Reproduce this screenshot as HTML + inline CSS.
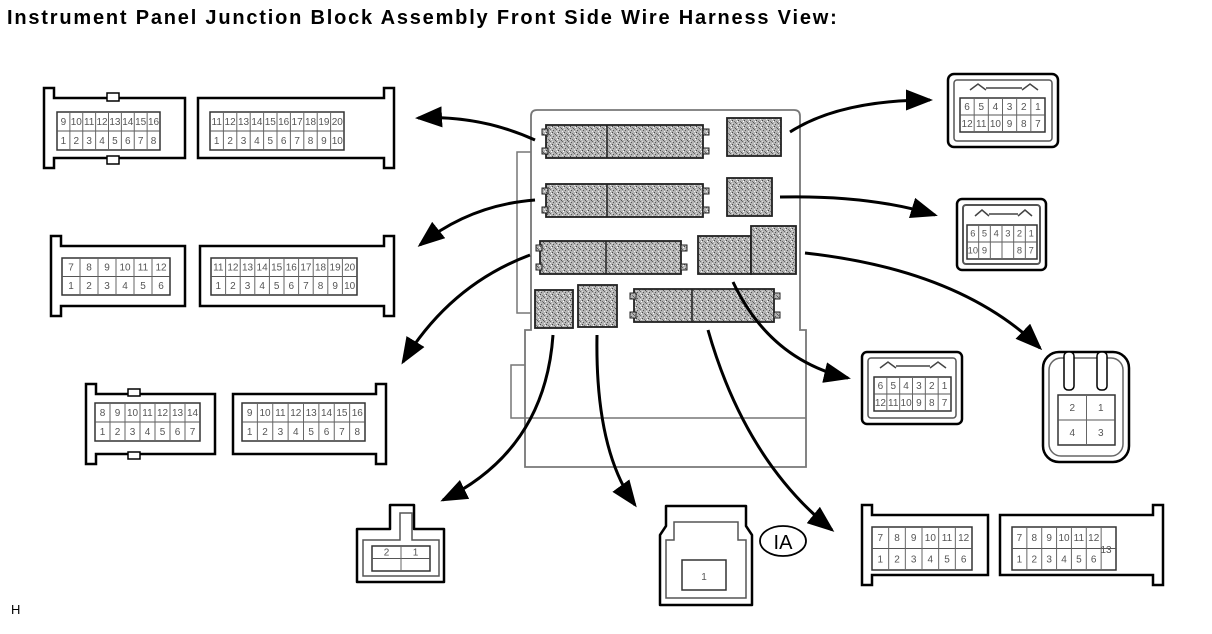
<!DOCTYPE html>
<html><head><meta charset="utf-8">
<style>
html,body{margin:0;padding:0;background:#fff;width:1212px;height:634px;overflow:hidden}
.t{position:absolute;left:7px;top:7px;font:bold 20px "Liberation Sans",sans-serif;letter-spacing:1.8px;color:#000;white-space:nowrap}
.h{position:absolute;left:11px;top:602px;font:13px "Liberation Sans",sans-serif}
svg{position:absolute;left:0;top:0}
</style></head><body>
<div class="t">Instrument Panel Junction Block Assembly Front Side Wire Harness View:</div>
<div class="h">H</div>
<svg id="s" width="1212" height="634" xmlns="http://www.w3.org/2000/svg">
<defs>
<pattern id="sp" width="6" height="6" patternUnits="userSpaceOnUse">
<rect width="6" height="6" fill="#b4b4b4"/>
<rect x="0" y="0" width="1" height="1" fill="#444"/><rect x="3" y="2" width="1" height="1" fill="#555"/>
<rect x="1" y="4" width="1" height="1" fill="#555"/><rect x="4" y="5" width="1" height="1" fill="#eee"/>
<rect x="5" y="1" width="1" height="1" fill="#fff"/><rect x="2" y="1" width="1" height="1" fill="#777"/>
<rect x="4" y="3" width="1" height="1" fill="#666"/><rect x="0" y="3" width="1" height="1" fill="#ddd"/>
</pattern>
<marker id="ah" markerWidth="9" markerHeight="7" refX="8" refY="3.5" orient="auto" markerUnits="strokeWidth">
<path d="M0,0 L9,3.5 L0,7 Z" fill="#000"/></marker>
</defs>
<g id="g"></g>
</svg>
<script>
var o='';
function R(x,y,w,h,a){o+='<rect x="'+x+'" y="'+y+'" width="'+w+'" height="'+h+'" '+(a||'fill="none" stroke="#000" stroke-width="2.5"')+'/>';}
function grid(x,y,w,h,top,bot){
 var n=top.length,cw=w/n;
 R(x,y,w,h,'fill="#fff" stroke="#333" stroke-width="1.5"');
 o+='<line x1="'+x+'" y1="'+(y+h/2)+'" x2="'+(x+w)+'" y2="'+(y+h/2)+'" stroke="#555" stroke-width="1"/>';
 for(var i=0;i<n;i++){
  if(i>0)o+='<line x1="'+(x+i*cw)+'" y1="'+y+'" x2="'+(x+i*cw)+'" y2="'+(y+h)+'" stroke="#666" stroke-width="1"/>';
  var fs=Math.min(10,cw*0.8);
  o+='<text x="'+(x+i*cw+cw/2)+'" y="'+(y+h/4+fs/3)+'" font-size="'+fs+'" text-anchor="middle" fill="#555" font-family="Liberation Sans">'+top[i]+'</text>';
  if(bot[i]!=='')o+='<text x="'+(x+i*cw+cw/2)+'" y="'+(y+3*h/4+fs/3)+'" font-size="'+fs+'" text-anchor="middle" fill="#555" font-family="Liberation Sans">'+bot[i]+'</text>';
 }
}
function shellL(x,y,w,h){
 o+='<path d="M'+(x+14)+','+y+' h'+(w-14)+' v'+h+' h-'+(w-14)+' v10 h-10 v-'+(h+20)+' h10 Z" fill="#fff" stroke="#000" stroke-width="2.5"/>';
}
function shellR(x,y,w,h){
 o+='<path d="M'+x+','+y+' h'+(w-14)+' v-10 h10 v'+(h+20)+' h-10 v-10 h-'+(w-14)+' Z" fill="#fff" stroke="#000" stroke-width="2.5"/>';
}
function r(a,b){var s=[];for(var i=a;i<=b;i++)s.push(i);return s;}
shellL(40,98,145,60);grid(57,112,103,38,r(9,16),r(1,8));R(107,93,12,8,'fill="#fff" stroke="#000" stroke-width="1.5"');R(107,156,12,8,'fill="#fff" stroke="#000" stroke-width="1.5"');
shellR(198,98,200,60);grid(210,112,134,38,r(11,20),r(1,10));
shellL(47,246,138,60);grid(62,258,108,37,r(7,12),r(1,6));
shellR(200,246,198,60);grid(211,258,146,37,r(11,20),r(1,10));
shellL(82,394,133,60);grid(95,403,105,38,r(8,14),r(1,7));R(128,389,12,7,'fill="#fff" stroke="#000" stroke-width="1.5"');R(128,452,12,7,'fill="#fff" stroke="#000" stroke-width="1.5"');
shellR(233,394,157,60);grid(242,403,123,38,r(9,16),r(1,8));
o+='<rect x="948" y="74" width="110" height="73" rx="6" fill="#fff" stroke="#000" stroke-width="2.5"/><rect x="954" y="80" width="98" height="61" rx="3" fill="none" stroke="#555" stroke-width="1.5"/>';
grid(960,98,85,34,[6,5,4,3,2,1],[12,11,10,9,8,7]);
o+='<path d="M970,90 l8,-6 l8,6 M1022,90 l8,-6 l8,6 M986,88 h36" stroke="#444" fill="none" stroke-width="1.5"/>';
o+='<rect x="957" y="199" width="89" height="71" rx="5" fill="#fff" stroke="#000" stroke-width="2.5"/><rect x="963" y="205" width="77" height="59" rx="3" fill="none" stroke="#555" stroke-width="2"/>';
grid(967,225,70,34,[6,5,4,3,2,1],[10,9,'','',8,7]);
o+='<path d="M975,216 l7,-6 l7,6 M1018,216 l7,-6 l7,6 M989,214 h29" stroke="#444" fill="none" stroke-width="1.5"/>';
o+='<rect x="862" y="352" width="100" height="72" rx="5" fill="#fff" stroke="#000" stroke-width="2.5"/><rect x="868" y="358" width="88" height="60" rx="3" fill="none" stroke="#555" stroke-width="1.5"/>';
grid(874,377,77,34,[6,5,4,3,2,1],[12,11,10,9,8,7]);
o+='<path d="M880,368 l8,-6 l8,6 M930,368 l8,-6 l8,6 M896,366 h34" stroke="#444" fill="none" stroke-width="1.5"/>';
o+='<rect x="1043" y="352" width="86" height="110" rx="16" fill="#fff" stroke="#000" stroke-width="2.5"/><rect x="1049" y="358" width="74" height="98" rx="12" fill="none" stroke="#666" stroke-width="1.5"/>';
o+='<rect x="1064" y="352" width="10" height="38" rx="4" fill="#fff" stroke="#000" stroke-width="1.5"/><rect x="1097" y="352" width="10" height="38" rx="4" fill="#fff" stroke="#000" stroke-width="1.5"/>';
grid(1058,395,57,50,[2,1],[4,3]);
shellL(858,515,130,60);grid(872,527,100,43,r(7,12),r(1,6));
shellR(1000,515,167,60);grid(1012,527,104,43,[7,8,9,10,11,12,''],[1,2,3,4,5,6,'']);
o+='<text x="1106" y="553" font-size="10" text-anchor="middle" fill="#555" font-family="Liberation Sans">13</text>';
o+='<path d="M357,529 h33 v-24 h24 v24 h30 v53 h-87 Z" fill="#fff" stroke="#000" stroke-width="2.5" stroke-linejoin="round"/>';
o+='<path d="M363,540 h37 v-27 h12 v27 h27 v36 h-76 Z" fill="none" stroke="#555" stroke-width="1.5"/>';
grid(372,546,58,25,[2,1],['','']);
o+='<path d="M660,535 l6,-9 v-20 h80 v20 l6,9 v70 h-92 Z" fill="#fff" stroke="#000" stroke-width="2.5" stroke-linejoin="round"/>';
o+='<path d="M666,540 h8 v-18 h64 v18 h8 v58 h-80 Z" fill="none" stroke="#555" stroke-width="1.5"/>';
R(682,560,44,30,'fill="#fff" stroke="#333" stroke-width="1.5"');
o+='<text x="704" y="580" font-size="10" text-anchor="middle" fill="#555" font-family="Liberation Sans">1</text>';
o+='<ellipse cx="783" cy="541" rx="23" ry="15" fill="#fff" stroke="#000" stroke-width="1.8"/><text x="783" y="549" font-size="20" text-anchor="middle" font-family="Liberation Sans">IA</text>';
o+='<rect x="517" y="152" width="16" height="161" fill="#fff" stroke="#777" stroke-width="1.5"/>';
o+='<rect x="511" y="365" width="16" height="53" fill="#fff" stroke="#777" stroke-width="1.5"/>';
o+='<path d="M531,330 V116 q0,-6 6,-6 h257 q6,0 6,6 V330 h6 V467 H525 V330 Z" fill="#fff" stroke="#777" stroke-width="1.8"/>';
o+='<line x1="525" y1="418" x2="806" y2="418" stroke="#777" stroke-width="1.5"/>';
function sc(x,y,w,h,d){o+='<rect x="'+x+'" y="'+y+'" width="'+w+'" height="'+h+'" fill="url(#sp)" stroke="#222" stroke-width="1.8"/>';if(d)o+='<line x1="'+d+'" y1="'+y+'" x2="'+d+'" y2="'+(y+h)+'" stroke="#222" stroke-width="1.5"/>';}
function tabs(x,y,h){o+='<rect x="'+(x-4)+'" y="'+(y+4)+'" width="6" height="6" fill="url(#sp)" stroke="#222"/><rect x="'+(x-4)+'" y="'+(y+h-10)+'" width="6" height="6" fill="url(#sp)" stroke="#222"/>';}
sc(546,125,157,33,607);tabs(546,125,33);tabs(707,125,33);sc(727,118,54,38);
sc(546,184,157,33,607);tabs(546,184,33);tabs(707,184,33);sc(727,178,45,38);
sc(540,241,141,33,606);tabs(540,241,33);tabs(685,241,33);sc(698,236,53,38,0);sc(751,226,45,48);
sc(535,290,38,38);sc(578,285,39,42);sc(634,289,140,33,692);tabs(634,289,33);tabs(778,289,33);
function A(d){o+='<path d="'+d+'" fill="none" stroke="#000" stroke-width="3" marker-end="url(#ah)"/>';}
A('M535,140 Q480,115 418,118');
A('M535,200 Q470,205 420,245');
A('M530,255 Q450,285 403,362');
A('M553,335 Q545,450 443,500');
A('M597,335 Q595,450 635,505');
A('M708,330 Q745,460 832,530');
A('M733,282 Q770,360 848,378');
A('M805,253 Q960,270 1040,348');
A('M790,132 Q840,100 930,100');
A('M780,197 Q870,195 935,215');
document.getElementById('g').innerHTML=o;
</script>
</body></html>
